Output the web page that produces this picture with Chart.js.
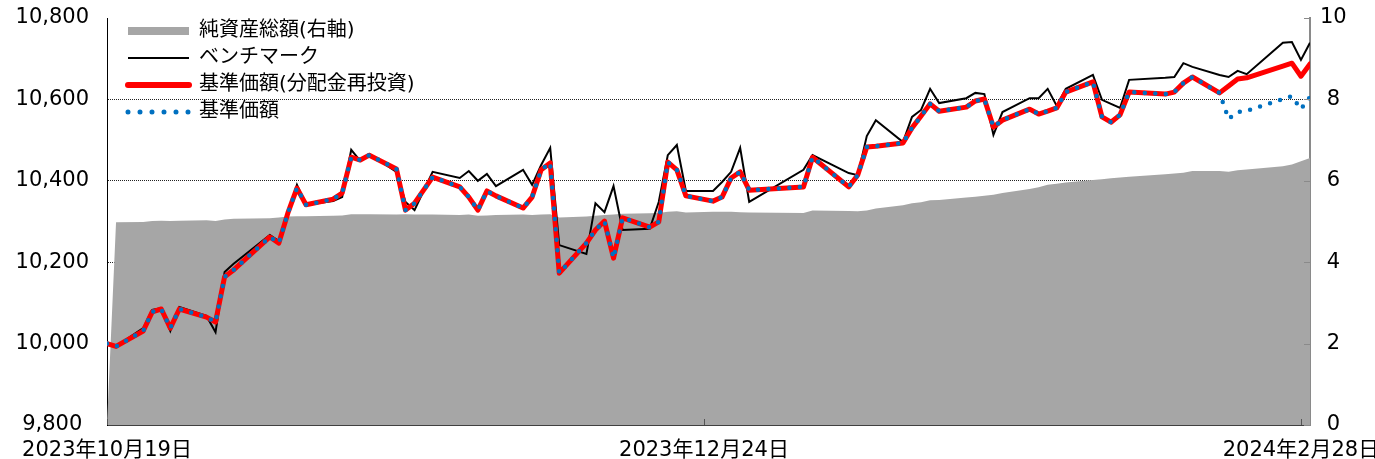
<!DOCTYPE html>
<html lang="ja">
<head>
<meta charset="utf-8">
<title>基準価額の推移</title>
<script src="https://cdn.jsdelivr.net/npm/chart.js@4.4.1/dist/chart.umd.min.js"></script>
<style>
  html, body { margin: 0; padding: 0; background: #fff; }
  #wrap { width: 1375px; height: 459px; }
</style>
</head>
<body>
<div id="wrap"><canvas id="chart" width="1375" height="459"></canvas></div>
<script>
// business days shown in the chart
const dates = [
  '2023-10-19','2023-10-20','2023-10-23','2023-10-24','2023-10-25','2023-10-26','2023-10-27','2023-10-30','2023-10-31',
  '2023-11-01','2023-11-02','2023-11-06','2023-11-07','2023-11-08','2023-11-09','2023-11-10','2023-11-13','2023-11-14','2023-11-15','2023-11-16','2023-11-17','2023-11-20','2023-11-21','2023-11-22','2023-11-24','2023-11-27','2023-11-28','2023-11-29','2023-11-30',
  '2023-12-01','2023-12-04','2023-12-05','2023-12-06','2023-12-07','2023-12-08','2023-12-11','2023-12-12','2023-12-13','2023-12-14','2023-12-15','2023-12-18','2023-12-19','2023-12-20','2023-12-21','2023-12-22','2023-12-25','2023-12-26','2023-12-27','2023-12-28','2023-12-29',
  '2024-01-04','2024-01-05','2024-01-09','2024-01-10','2024-01-11','2024-01-12','2024-01-15','2024-01-16','2024-01-17','2024-01-18','2024-01-19','2024-01-22','2024-01-23','2024-01-24','2024-01-25','2024-01-26','2024-01-29','2024-01-30','2024-01-31',
  '2024-02-01','2024-02-02','2024-02-05','2024-02-06','2024-02-07','2024-02-08','2024-02-09','2024-02-13','2024-02-14','2024-02-15','2024-02-16','2024-02-19','2024-02-20','2024-02-21','2024-02-22','2024-02-26','2024-02-27','2024-02-28','2024-02-29'
];

// 純資産総額 (right axis)
const netAssets = [
  0, 4.98, 4.99, 5.01, 5.02, 5.01, 5.02, 5.03, 5.01,
  5.05, 5.07, 5.08, 5.10, 5.12, 5.13, 5.13, 5.14, 5.15, 5.18, 5.18, 5.18, 5.17, 5.18, 5.17, 5.17, 5.16, 5.17, 5.14, 5.15,
  5.16, 5.17, 5.16, 5.17, 5.18, 5.10, 5.12, 5.14, 5.16, 5.17, 5.19, 5.20, 5.21, 5.24, 5.25, 5.22, 5.24, 5.24, 5.24, 5.23, 5.22,
  5.21, 5.27, 5.26, 5.25, 5.27, 5.32, 5.40, 5.45, 5.47, 5.52, 5.53, 5.59, 5.61, 5.63, 5.66, 5.70, 5.80, 5.84, 5.90,
  5.93, 5.96, 6.02, 6.04, 6.06, 6.08, 6.10, 6.16, 6.18, 6.20, 6.24, 6.24, 6.22, 6.26, 6.28, 6.36, 6.40, 6.48, 6.56
];

// ベンチマーク
const benchmark = [
  10000, 9993, 10038, 10083, 10087, 10031, 10090, 10068, 10028,
  10176, 10196, 10267, 10252, 10321, 10390, 10341, 10350, 10360, 10476, 10449, 10466, 10422, 10348, 10328, 10422, 10407, 10424, 10400, 10417,
  10387, 10427, 10390, 10439, 10481, 10242, 10220, 10345, 10323, 10387, 10279, 10282, 10348, 10463, 10488, 10375, 10375, 10397, 10422, 10481, 10348,
  10427, 10463, 10419, 10414, 10510, 10549, 10495, 10557, 10574, 10626, 10591, 10603, 10616, 10613, 10513, 10569, 10603, 10603, 10626,
  10584, 10626, 10660, 10599, 10589, 10579, 10648, 10653, 10655, 10689, 10680, 10660, 10655, 10670, 10662, 10739, 10741, 10697, 10739
];

// 基準価額(分配金再投資)
const navReinvested = [
  10000, 9993, 10031, 10078, 10085, 10038, 10085, 10065, 10053,
  10164, 10181, 10262, 10247, 10321, 10382, 10341, 10355, 10370, 10458, 10451, 10463, 10429, 10328, 10345, 10409, 10385, 10360, 10328, 10375,
  10363, 10333, 10360, 10427, 10444, 10173, 10247, 10279, 10301, 10210, 10309, 10286, 10299, 10446, 10427, 10363, 10350, 10360, 10407, 10422, 10377,
  10385, 10458, 10385, 10414, 10483, 10485, 10493, 10530, 10559, 10589, 10571, 10581, 10596, 10601, 10532, 10549, 10576, 10564, 10571,
  10579, 10618, 10643, 10557, 10544, 10562, 10618, 10613, 10618, 10640, 10655, 10616, 10633, 10650, 10653, 10682, 10689, 10657, 10687
];

// 基準価額
const nav = [
  10000, 9993, 10031, 10078, 10085, 10038, 10085, 10065, 10053,
  10164, 10181, 10262, 10247, 10321, 10382, 10341, 10355, 10370, 10458, 10451, 10463, 10429, 10328, 10345, 10409, 10385, 10360, 10328, 10375,
  10363, 10333, 10360, 10427, 10444, 10173, 10247, 10279, 10301, 10210, 10309, 10286, 10299, 10446, 10427, 10363, 10350, 10360, 10407, 10422, 10377,
  10385, 10458, 10385, 10414, 10483, 10485, 10493, 10530, 10559, 10589, 10571, 10581, 10596, 10601, 10532, 10549, 10576, 10564, 10571,
  10579, 10618, 10643, 10557, 10544, 10562, 10618, 10613, 10618, 10640, 10655, 10616, 10552, 10569, 10572, 10601, 10608, 10576, 10606
];

const xTickDates = ['2023-10-19', '2023-12-24', '2024-02-28'];
const leftRange = [9800, 10800, 200];
const rightRange = [0, 10, 2];

const FONT = "'DejaVu Sans', 'Noto Sans CJK JP', sans-serif";
Chart.defaults.font.family = FONT;
Chart.defaults.color = '#000';

const BASE = Date.UTC(2023, 9, 19);
function dayOf(s) {
  const [y, m, d] = s.split('-').map(Number);
  return (Date.UTC(y, m - 1, d) - BASE) / 86400000;
}
function jpDate(s) {
  const [y, m, d] = s.split('-').map(Number);
  return y + '年' + m + '月' + d + '日';
}
const pts = vals => dates.map((d, i) => ({ x: dayOf(d), y: vals[i] }));

// legend sits inside the plot, nudged to where the original has it
const legendShift = {
  id: 'legendShift',
  beforeDraw(chart) {
    const lg = chart.legend;
    if (!lg) return;
    lg.left = chart.chartArea.left + 14;
    lg.top = chart.chartArea.top - 4;
  }
};

// short tick marks on the inner side of the right and bottom axes
const innerTicks = {
  id: 'innerTicks',
  afterDatasetsDraw(chart) {
    const { ctx, chartArea, scales } = chart;
    ctx.save();
    ctx.lineWidth = 1;
    ctx.strokeStyle = '#8a8a8a';
    scales.y1.ticks.forEach(t => {
      const py = Math.round(scales.y1.getPixelForValue(t.value)) + 0.5;
      ctx.beginPath();
      ctx.moveTo(chartArea.right - 6, py);
      ctx.lineTo(chartArea.right, py);
      ctx.stroke();
    });
    ctx.strokeStyle = '#555';
    scales.x.ticks.forEach(t => {
      const px = Math.round(scales.x.getPixelForValue(t.value)) + 0.5;
      ctx.beginPath();
      ctx.moveTo(px, chartArea.bottom - 6);
      ctx.lineTo(px, chartArea.bottom);
      ctx.stroke();
    });
    ctx.restore();
  }
};

const legendStyle = [
  { color: '#a6a6a6', width: 8, dash: [], cap: 'butt' },
  { color: '#000000', width: 2, dash: [], cap: 'butt' },
  { color: '#ff0000', width: 6, dash: [], cap: 'round' },
  { color: '#0070c0', width: 5, dash: [0, 12], cap: 'round' }
];

new Chart(document.getElementById('chart'), {
  type: 'line',
  data: {
    datasets: [
      {
        label: '純資産総額(右軸)',
        data: pts(netAssets),
        yAxisID: 'y1',
        borderWidth: 0,
        backgroundColor: '#a6a6a6',
        fill: 'start',
        pointRadius: 0,
        order: 4
      },
      {
        label: 'ベンチマーク',
        data: pts(benchmark),
        yAxisID: 'y',
        borderColor: '#000',
        borderWidth: 2,
        pointRadius: 0,
        fill: false,
        order: 3
      },
      {
        label: '基準価額(分配金再投資)',
        data: pts(navReinvested),
        yAxisID: 'y',
        borderColor: '#ff0000',
        borderWidth: 5,
        borderJoinStyle: 'round',
        borderCapStyle: 'round',
        pointRadius: 0,
        fill: false,
        order: 2
      },
      {
        label: '基準価額',
        data: pts(nav),
        yAxisID: 'y',
        borderColor: '#0070c0',
        borderWidth: 4.5,
        borderDash: [0, 10.5],
        borderCapStyle: 'round',
        pointRadius: 0,
        fill: false,
        order: 1
      }
    ]
  },
  options: {
    responsive: false,
    animation: false,
    devicePixelRatio: 1,
    layout: { padding: { top: 18, left: 0, right: 0, bottom: 0 } },
    plugins: {
      tooltip: { enabled: false },
      legend: {
        position: 'chartArea',
        align: 'start',
        labels: {
          usePointStyle: true,
          pointStyleWidth: 61,
          padding: 7,
          font: { size: 20, family: FONT },
          color: '#000',
          generateLabels: chart => chart.data.datasets.map((ds, i) => ({
            text: ds.label,
            datasetIndex: i,
            hidden: false,
            pointStyle: 'line',
            strokeStyle: legendStyle[i].color,
            fillStyle: legendStyle[i].color,
            lineWidth: legendStyle[i].width,
            lineDash: legendStyle[i].dash,
            lineCap: legendStyle[i].cap
          }))
        }
      }
    },
    scales: {
      x: {
        type: 'linear',
        min: dayOf(dates[0]),
        max: dayOf(dates[dates.length - 1]),
        afterBuildTicks: scale => {
          scale.ticks = xTickDates.map(d => ({ value: dayOf(d) }));
        },
        afterFit: scale => {
          scale.height = 34;
          scale.paddingLeft = 0;
          scale.paddingRight = 0;
        },
        grid: { display: false },
        border: { display: true, color: '#404040', width: 1 },
        ticks: {
          autoSkip: false,
          maxRotation: 0,
          minRotation: 0,
          padding: 5,
          font: { size: 21 },
          callback: v => {
            const s = xTickDates.find(d => dayOf(d) === v);
            return s ? jpDate(s) : '';
          }
        }
      },
      y: {
        position: 'left',
        min: leftRange[0],
        max: leftRange[1],
        afterFit: scale => {
          scale.width = 107;
          scale.paddingTop = 0;
          scale.paddingBottom = 0;
        },
        grid: {
          drawTicks: false,
          lineWidth: 1,
          color: c => (c.tick && c.tick.value > leftRange[0] && c.tick.value < leftRange[1]) ? '#222' : 'rgba(0,0,0,0)'
        },
        border: { display: true, color: '#000', width: 1, dash: [1, 1] },
        ticks: {
          stepSize: leftRange[2],
          padding: 18,
          crossAlign: 'center',
          font: { size: 21 },
          callback: v => v.toLocaleString('en-US')
        }
      },
      y1: {
        position: 'right',
        min: rightRange[0],
        max: rightRange[1],
        afterFit: scale => {
          scale.width = 65;
          scale.paddingTop = 0;
          scale.paddingBottom = 0;
        },
        grid: { drawOnChartArea: false, drawTicks: false },
        border: { display: true, color: '#8a8a8a', width: 2 },
        ticks: {
          stepSize: rightRange[2],
          padding: 10,
          crossAlign: 'center',
          font: { size: 21 }
        }
      }
    }
  },
  plugins: [legendShift, innerTicks]
});
</script>
</body>
</html>
